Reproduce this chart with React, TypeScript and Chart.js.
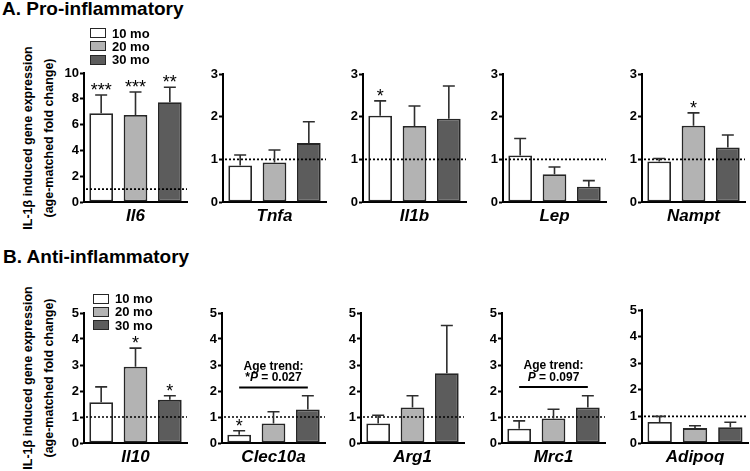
import React, { useEffect, useRef } from 'react';
import { Chart, registerables } from 'chart.js';

Chart.register(...registerables);

const FONT = "Arial, 'Liberation Sans', Helvetica, sans-serif";

// ---------- data ----------
const ageGroups = ['10 mo', '20 mo', '30 mo'];
const ageColors = ['#ffffff', '#b3b3b3', '#5c5c5c'];

const proGenes = ['Il6', 'Tnfa', 'Il1b', 'Lep', 'Nampt'];
const pro10 = [6.88, 0.855, 2.02, 1.09, 0.95];
const pro20 = [6.75, 0.925, 1.78, 0.65, 1.79];
const pro30 = [7.73, 1.38, 1.95, 0.36, 1.28];
const proErr10 = [1.42, 0.245, 0.35, 0.4, 0.07];
const proErr20 = [1.78, 0.295, 0.47, 0.17, 0.3];
const proErr30 = [1.17, 0.5, 0.77, 0.14, 0.29];
const proStars10 = ['***', '', '*', '', ''];
const proStars20 = ['***', '', '', '', '*'];
const proStars30 = ['**', '', '', '', ''];
const proYMax = [10, 3, 3, 3, 3];
const proYStep = [2, 1, 1, 1, 1];

const antiGenes = ['Il10', 'Clec10a', 'Arg1', 'Mrc1', 'Adipoq'];
const anti10 = [1.57, 0.32, 0.75, 0.55, 0.79];
const anti20 = [2.93, 0.75, 1.37, 0.94, 0.56];
const anti30 = [1.66, 1.29, 2.68, 1.37, 0.59];
const antiErr10 = [0.59, 0.15, 0.32, 0.3, 0.21];
const antiErr20 = [0.72, 0.45, 0.45, 0.36, 0.09];
const antiErr30 = [0.16, 0.53, 1.84, 0.45, 0.19];
const antiStars10 = ['', '*', '', '', ''];
const antiStars20 = ['*', '', '', '', ''];
const antiStars30 = ['*', '', '', '', ''];
const antiYMax = [5, 5, 5, 5, 5];
const antiYStep = [1, 1, 1, 1, 1];
const antiTrendY: (number | null)[] = [null, 2.13, null, 2.15, null];
const antiTrendPrefix = ['', '*', '', '', ''];
const antiTrendP = ['', '0.027', '', '0.097', ''];

const yTitle = ['IL-1\u03b2 induced gene expression', '(age-matched fold change)'];
const refLine = 1;

// ---------- layout ----------
const topPlots = [[84, 187], [223, 326], [363, 466], [503, 606], [642, 745]];
const topTop = [73, 74, 74, 74, 74];
const topBottom = 202;
const botPlots = [[84, 187], [222, 325], [361, 464], [502, 605], [642, 748]];
const botTop = [313, 313, 313, 313, 310];
const botBottom = 443;

type Spec = {
  gene: string;
  values: number[];
  errors: number[];
  stars: string[];
  yMax: number;
  yStep: number;
  left: number;
  right: number;
  top: number;
  bottom: number;
  first: boolean;
  trendY: number | null;
  trendPrefix: string;
  trendP: string;
};

const specs: Spec[] = [];
proGenes.forEach((g, i) => {
  specs.push({
    gene: g,
    values: [pro10[i], pro20[i], pro30[i]],
    errors: [proErr10[i], proErr20[i], proErr30[i]],
    stars: [proStars10[i], proStars20[i], proStars30[i]],
    yMax: proYMax[i],
    yStep: proYStep[i],
    left: topPlots[i][0],
    right: topPlots[i][1],
    top: topTop[i],
    bottom: topBottom,
    first: i === 0,
    trendY: null,
    trendPrefix: '',
    trendP: '',
  });
});
antiGenes.forEach((g, i) => {
  specs.push({
    gene: g,
    values: [anti10[i], anti20[i], anti30[i]],
    errors: [antiErr10[i], antiErr20[i], antiErr30[i]],
    stars: [antiStars10[i], antiStars20[i], antiStars30[i]],
    yMax: antiYMax[i],
    yStep: antiYStep[i],
    left: botPlots[i][0],
    right: botPlots[i][1],
    top: botTop[i],
    bottom: botBottom,
    first: i === 0,
    trendY: antiTrendY[i],
    trendPrefix: antiTrendPrefix[i],
    trendP: antiTrendP[i],
  });
});

const PAD_TOP = 10;
const X_H = 32;
const PAD_RIGHT = 3;

function Panel({ spec }: { spec: Spec }) {
  const ref = useRef<HTMLCanvasElement>(null);
  const canvasLeft = spec.left - 36;
  const yW = spec.left - canvasLeft;
  const width = yW + (spec.right - spec.left) + PAD_RIGHT;
  const height = PAD_TOP + (spec.bottom - spec.top) + X_H;

  useEffect(() => {
    const canvas = ref.current;
    if (!canvas) return;
    const overlay = {
      id: 'overlay' + spec.gene,
      afterDatasetsDraw(chart: any) {
        const { ctx, chartArea, scales } = chart;
        const ys = scales.y;
        ctx.save();
        // reference dotted line
        const y1 = ys.getPixelForValue(refLine);
        ctx.setLineDash([2, 2]);
        ctx.lineWidth = 1.6;
        ctx.strokeStyle = '#000';
        ctx.beginPath();
        ctx.moveTo(chartArea.left + 2, y1);
        ctx.lineTo(chartArea.right, y1);
        ctx.stroke();
        ctx.setLineDash([]);
        // error bars + stars
        chart.data.datasets.forEach((ds: any, i: number) => {
          const bar = chart.getDatasetMeta(i).data[0];
          const v = ds.data[0] as number;
          const yt = bar.y;
          const ye = ys.getPixelForValue(v + spec.errors[i]);
          ctx.lineWidth = 1.6;
          ctx.strokeStyle = '#2e2e2e';
          ctx.beginPath();
          ctx.moveTo(bar.x, yt);
          ctx.lineTo(bar.x, ye);
          ctx.moveTo(bar.x - 6, ye);
          ctx.lineTo(bar.x + 6, ye);
          ctx.stroke();
          if (spec.stars[i]) {
            ctx.font = `18px ${FONT}`;
            ctx.textAlign = 'center';
            ctx.textBaseline = 'alphabetic';
            ctx.fillStyle = '#000';
            ctx.fillText(spec.stars[i], bar.x, ye + 1);
          }
        });
        // age trend annotation
        if (spec.trendY !== null) {
          const b0 = chart.getDatasetMeta(0).data[0];
          const b2 = chart.getDatasetMeta(2).data[0];
          const ly = ys.getPixelForValue(spec.trendY);
          ctx.lineWidth = 2;
          ctx.strokeStyle = '#000';
          ctx.beginPath();
          ctx.moveTo(b0.x, ly);
          ctx.lineTo(b2.x, ly);
          ctx.stroke();
          const mid = (b0.x + b2.x) / 2;
          ctx.fillStyle = '#000';
          ctx.textBaseline = 'middle';
          ctx.textAlign = 'center';
          ctx.font = `bold 12px ${FONT}`;
          ctx.fillText('Age trend:', mid, ly - 21);
          const bold = `bold 12px ${FONT}`;
          const boldIt = `italic bold 12px ${FONT}`;
          const parts: [string, string][] = [
            [spec.trendPrefix, bold],
            ['P', boldIt],
            [' = ' + spec.trendP, bold],
          ];
          let total = 0;
          parts.forEach(([t, f]) => {
            ctx.font = f;
            total += ctx.measureText(t).width;
          });
          let x = mid - total / 2;
          ctx.textAlign = 'left';
          parts.forEach(([t, f]) => {
            ctx.font = f;
            ctx.fillText(t, x, ly - 9.5);
            x += ctx.measureText(t).width;
          });
        }
        ctx.restore();
      },
    };

    const chart = new Chart(canvas, {
      type: 'bar',
      data: {
        labels: [spec.gene],
        datasets: ageGroups.map((a, i) => ({
          label: a,
          data: [spec.values[i]],
          backgroundColor: ageColors[i],
          borderColor: '#262626',
          borderWidth: 1.8,
          borderSkipped: false as any,
          categoryPercentage: 1,
          barPercentage: 0.69,
        })),
      },
      options: {
        responsive: false,
        animation: false,
        devicePixelRatio: 1,
        events: [],
        layout: { padding: { left: 0, top: PAD_TOP, right: PAD_RIGHT, bottom: 0 } },
        plugins: {
          legend: { display: false },
          tooltip: { enabled: false },
          title: { display: false },
        },
        scales: {
          x: {
            type: 'category',
            grid: { display: false },
            border: { display: true, color: '#000', width: 2 },
            ticks: { display: false },
            title: {
              display: true,
              text: spec.gene,
              color: '#000',
              font: { family: FONT, size: 17, weight: 'bold', style: 'italic', lineHeight: 1.2 },
              padding: { top: 0, bottom: 7 },
            },
            afterFit: (s: any) => {
              s.height = X_H;
            },
          },
          y: {
            type: 'linear',
            min: 0,
            max: spec.yMax,
            border: { display: true, color: '#000', width: 2 },
            grid: {
              display: true,
              drawOnChartArea: false,
              drawTicks: true,
              tickLength: 4,
              tickWidth: 2,
              tickColor: '#000',
              color: '#000',
            },
            ticks: {
              stepSize: spec.yStep,
              color: '#000',
              padding: 1,
              font: { family: FONT, size: 13, weight: 'bold' },
            },
            afterFit: (s: any) => {
              s.width = yW;
            },
          },
        },
      } as any,
      plugins: [overlay],
    });
    return () => chart.destroy();
  }, [spec, yW]);

  return (
    <canvas
      ref={ref}
      width={width}
      height={height}
      style={{ position: 'absolute', left: canvasLeft, top: spec.top - PAD_TOP, width, height }}
    />
  );
}

function YTitle({ cy }: { cy: number }) {
  const xs = [27.5, 48.5];
  return (
    <>
      {yTitle.map((t, i) => (
        <div
          key={t}
          style={{
            position: 'absolute',
            left: xs[i],
            top: cy,
            transform: 'translate(-50%, -50%) rotate(-90deg)',
            fontFamily: FONT,
            fontWeight: 'bold',
            fontSize: 12.5,
            lineHeight: '14px',
            color: '#000',
            whiteSpace: 'nowrap',
          }}
        >
          {t}
        </div>
      ))}
    </>
  );
}

function Legend({ left, centers }: { left: number; centers: number[] }) {
  return (
    <>
      {ageGroups.map((a, i) => (
        <React.Fragment key={a}>
          <div
            style={{
              position: 'absolute',
              left,
              top: centers[i] - 5,
              width: 16,
              height: 10,
              boxSizing: 'border-box',
              border: '1.5px solid #262626',
              background: ageColors[i],
            }}
          />
          <div
            style={{
              position: 'absolute',
              left: left + 22,
              top: centers[i] - 6.5,
              height: 13,
              lineHeight: '13px',
              fontSize: 13,
              fontWeight: 'bold',
              fontFamily: FONT,
              color: '#000',
              whiteSpace: 'nowrap',
            }}
          >
            {a}
          </div>
        </React.Fragment>
      ))}
    </>
  );
}

const sectionTitleStyle: React.CSSProperties = {
  position: 'absolute',
  fontFamily: FONT,
  fontWeight: 'bold',
  fontSize: 19,
  lineHeight: '19px',
  color: '#000',
  whiteSpace: 'nowrap',
};

export default function App() {
  return (
    <div
      style={{
        position: 'fixed',
        left: 0,
        top: 0,
        width: 750,
        height: 471,
        background: '#fff',
        overflow: 'hidden',
      }}
    >
      <div style={{ ...sectionTitleStyle, left: 2, top: -1 }}>A. Pro-inflammatory</div>
      <div style={{ ...sectionTitleStyle, left: 3, top: 247 }}>B. Anti-inflammatory</div>
      <YTitle cy={(topTop[0] + topBottom) / 2} />
      <YTitle cy={(botTop[0] + botBottom) / 2} />
      {specs.map((s) => (
        <Panel key={s.gene} spec={s} />
      ))}
      <Legend left={90} centers={[33, 46, 59.5]} />
      <Legend left={93} centers={[298.5, 311.5, 325]} />
    </div>
  );
}
